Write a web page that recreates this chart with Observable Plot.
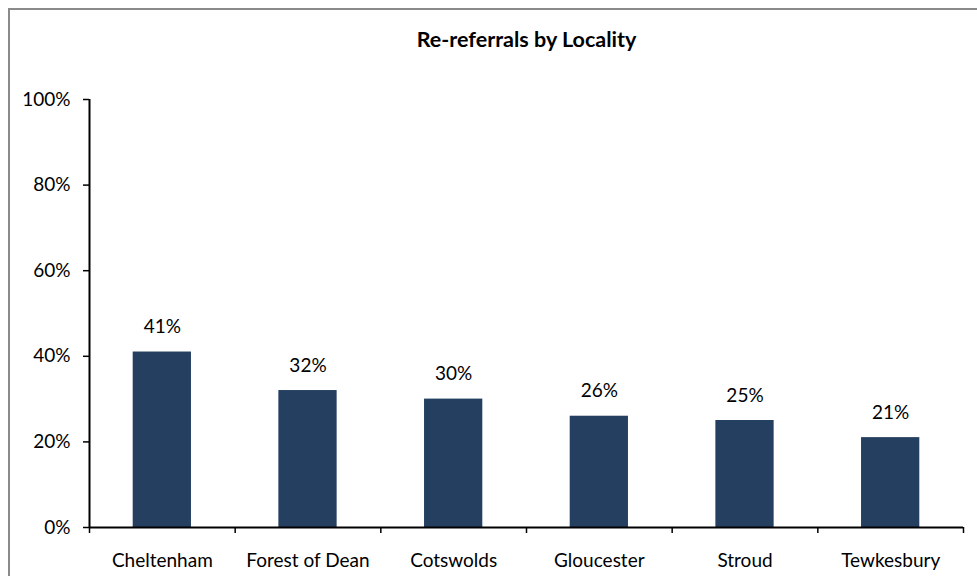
<!DOCTYPE html>
<html>
<head>
<meta charset="utf-8">
<script src="https://cdn.jsdelivr.net/npm/d3@7"></script>
<script src="https://cdn.jsdelivr.net/npm/@observablehq/plot@0.6"></script>
<style>
  html, body { margin: 0; padding: 0; background: #fff; overflow: hidden; }
  #wrap { position: relative; width: 977px; height: 576px; }
  #frame { position: absolute; left: 8px; top: 8px; width: 1200px; height: 800px; border: 2px solid #8a8a8a; box-sizing: border-box; }
  #chart { position: absolute; left: 0; top: 0; }
</style>
</head>
<body>
<div id="wrap"><div id="frame"></div><div id="chart"></div></div>
<script>
const title = "Re-referrals by Locality";
const categories = ["Cheltenham", "Forest of Dean", "Cotswolds", "Gloucester", "Stroud", "Tewkesbury"];
const values = [0.41, 0.32, 0.30, 0.26, 0.25, 0.21];
const yTicks = [0, 0.2, 0.4, 0.6, 0.8, 1.0];

const data = categories.map((c, i) => ({i, category: c, value: values[i]}));
const boundaries = d3.range(categories.length + 1);
const centers = categories.map((c, i) => i + 0.5);
const font = "Lato, 'Open Sans', sans-serif";
const fs = 19;

const chart = Plot.plot({
  width: 977,
  height: 576,
  marginLeft: 89,
  marginRight: 14,
  marginTop: 99,
  marginBottom: 49,
  style: {fontFamily: font, fontSize: fs + "px", color: "#000", background: "transparent", overflow: "visible"},
  x: {type: "linear", domain: [0, categories.length]},
  y: {domain: [0, 1]},
  marks: [
    Plot.rectY(data, {x1: d => d.i + 0.3, x2: d => d.i + 0.7, y: "value", fill: "#243F60"}),
    Plot.text(data, {x: d => d.i + 0.5, y: "value", text: d => Math.round(d.value * 100) + "%", dy: -25, lineAnchor: "middle", fill: "#000", fontSize: fs}),
    Plot.axisY({ticks: yTicks, tickFormat: d => Math.round(d * 100) + "%", tickSize: 6, tickPadding: 13, stroke: "#000", strokeWidth: 1.5, fontSize: fs, label: null}),
    Plot.axisX({ticks: boundaries, tickFormat: () => "", tickSize: 6, stroke: "#000", strokeWidth: 1.5, label: null}),
    Plot.axisX({ticks: centers, tickFormat: d => categories[Math.round(d - 0.5)], tickSize: 0, tickPadding: 26, fontSize: fs, label: null}),
    Plot.ruleX([0], {stroke: "#000", strokeWidth: 2}),
    Plot.ruleY([0], {stroke: "#000", strokeWidth: 2}),
    Plot.text([title], {frameAnchor: "top", dy: -59, lineAnchor: "middle", fontWeight: "bold", fontSize: 21.5, fill: "#000"})
  ]
});
document.getElementById("chart").appendChild(chart);
</script>
</body>
</html>
